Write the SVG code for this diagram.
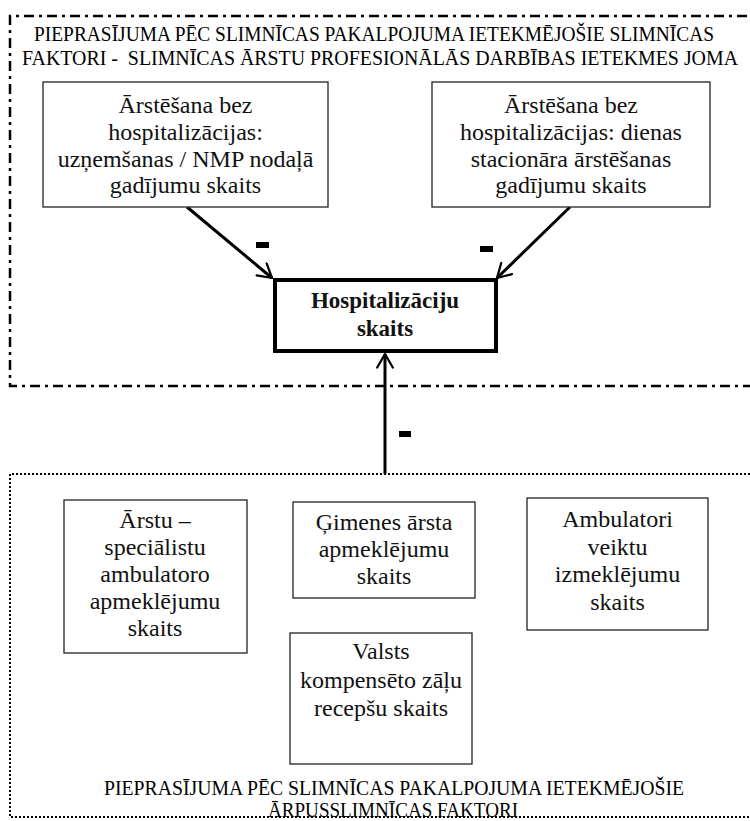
<svg xmlns="http://www.w3.org/2000/svg" width="750" height="821" viewBox="0 0 750 821">
  <style>
    .zone-dashdot { fill: none; stroke: #000; stroke-width: 2.5; stroke-dasharray: 10 5 3 5; }
    .zone-dotted { fill: none; stroke: #000; stroke-width: 2; stroke-dasharray: 2 2; }
    .box { fill: #fff; stroke: #222; stroke-width: 1.3; }
    .box-main { fill: #fff; stroke: #000; stroke-width: 4; }
    .caption { font-family: "Liberation Serif", "Times New Roman", serif; font-size: 20px; fill: #000; text-anchor: middle; }
    .lbl { font-family: "Liberation Serif", "Times New Roman", serif; font-size: 24px; fill: #111; text-anchor: middle; }
    .lbl-bold { font-family: "Liberation Serif", "Times New Roman", serif; font-size: 23px; font-weight: bold; fill: #111; text-anchor: middle; }
    .link { fill: none; stroke: #000; stroke-width: 3; marker-end: url(#open-arrow); }
    .minus { fill: #000; }
  </style>
  <defs>
    <marker id="open-arrow" viewBox="0 0 12 12" refX="11" refY="6" markerWidth="6" markerHeight="6" orient="auto" markerUnits="strokeWidth">
      <path d="M2,0.8 L11,6 L2,11.2" fill="none" stroke="#000" stroke-width="1.5" stroke-linecap="round" stroke-linejoin="round"/>
    </marker>
  </defs>

  <!-- hospital zone (dash-dot frame, right edge runs off the page) -->
  <g id="zone-hospital">
    <path class="zone-dashdot" d="M770,16 L10,16 L10,386 L770,386"/>
    <text class="caption" x="374" y="41" textLength="680" lengthAdjust="spacingAndGlyphs">PIEPRASĪJUMA PĒC SLIMNĪCAS PAKALPOJUMA IETEKMĒJOŠIE SLIMNĪCAS</text>
    <text class="caption" x="380" y="65" textLength="716" lengthAdjust="spacingAndGlyphs" xml:space="preserve">FAKTORI -  SLIMNĪCAS ĀRSTU PROFESIONĀLĀS DARBĪBAS IETEKMES JOMA</text>
  </g>

  <!-- outpatient zone (dotted frame, right edge runs off the page) -->
  <g id="zone-outpatient">
    <path class="zone-dotted" d="M770,474 L10,474 L10,817 L770,817"/>
    <text class="caption" x="394" y="795" textLength="580" lengthAdjust="spacingAndGlyphs">PIEPRASĪJUMA PĒC SLIMNĪCAS PAKALPOJUMA IETEKMĒJOŠIE</text>
    <text class="caption" x="393" y="817" textLength="250" lengthAdjust="spacingAndGlyphs">ĀRPUSSLIMNĪCAS FAKTORI</text>
  </g>

  <!-- connectors -->
  <g id="connectors">
    <line class="link" x1="187" y1="207" x2="272" y2="278"/>
    <line class="link" x1="570" y1="207" x2="497" y2="278"/>
    <line class="link" x1="385" y1="474" x2="385" y2="354"/>
    <rect class="minus" x="256" y="242" width="13" height="6"/>
    <rect class="minus" x="480" y="246" width="13" height="6"/>
    <rect class="minus" x="399" y="431" width="12" height="6"/>
  </g>

  <g id="node-nmp">
    <rect class="box" x="43" y="82" width="285" height="125"/>
    <text class="lbl" x="185.5" y="113">Ārstēšana bez</text>
    <text class="lbl" x="185.5" y="140">hospitalizācijas:</text>
    <text class="lbl" x="185.5" y="167">uzņemšanas / NMP nodaļā</text>
    <text class="lbl" x="185.5" y="193">gadījumu skaits</text>
  </g>

  <g id="node-day-care">
    <rect class="box" x="432" y="82" width="278" height="125"/>
    <text class="lbl" x="571" y="113">Ārstēšana bez</text>
    <text class="lbl" x="571" y="140">hospitalizācijas: dienas</text>
    <text class="lbl" x="571" y="167">stacionāra ārstēšanas</text>
    <text class="lbl" x="571" y="193">gadījumu skaits</text>
  </g>

  <g id="node-hospitalisations">
    <rect class="box-main" x="275" y="280" width="221" height="71"/>
    <text class="lbl-bold" x="385" y="308">Hospitalizāciju</text>
    <text class="lbl-bold" x="385" y="336">skaits</text>
  </g>

  <g id="node-specialists">
    <rect class="box" x="64" y="500" width="183" height="153"/>
    <text class="lbl" x="155" y="528">Ārstu –</text>
    <text class="lbl" x="155" y="555">speciālistu</text>
    <text class="lbl" x="155" y="582">ambulatoro</text>
    <text class="lbl" x="155" y="609">apmeklējumu</text>
    <text class="lbl" x="155" y="636">skaits</text>
  </g>

  <g id="node-gp">
    <rect class="box" x="293" y="502" width="182" height="96"/>
    <text class="lbl" x="384" y="530">Ģimenes ārsta</text>
    <text class="lbl" x="384" y="557">apmeklējumu</text>
    <text class="lbl" x="384" y="584">skaits</text>
  </g>

  <g id="node-examinations">
    <rect class="box" x="527" y="498" width="181" height="132"/>
    <text class="lbl" x="617.5" y="527">Ambulatori</text>
    <text class="lbl" x="617.5" y="555">veiktu</text>
    <text class="lbl" x="617.5" y="582">izmeklējumu</text>
    <text class="lbl" x="617.5" y="610">skaits</text>
  </g>

  <g id="node-prescriptions">
    <rect class="box" x="290" y="633" width="182" height="131"/>
    <text class="lbl" x="381" y="659">Valsts</text>
    <text class="lbl" x="381" y="688">kompensēto zāļu</text>
    <text class="lbl" x="381" y="716">recepšu skaits</text>
  </g>
</svg>
